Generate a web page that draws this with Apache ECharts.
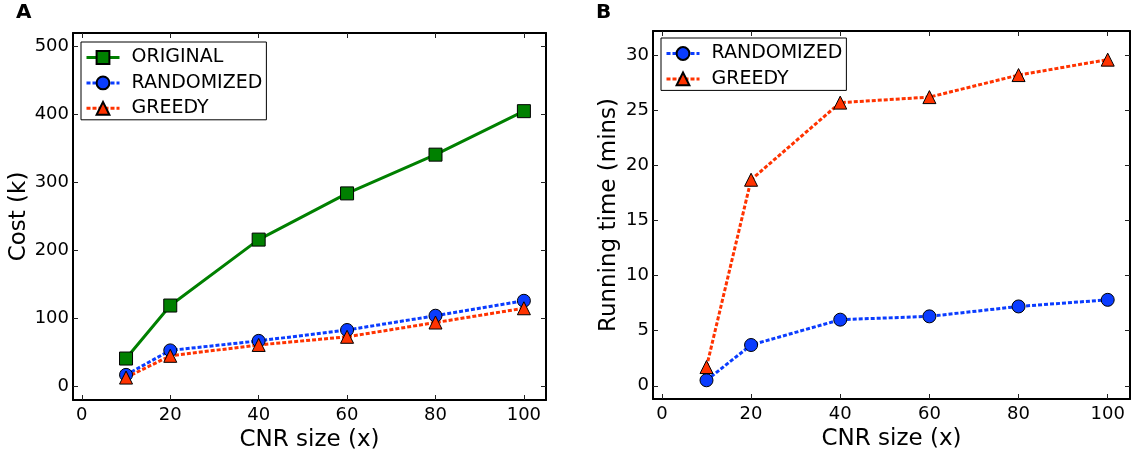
<!DOCTYPE html>
<html><head><meta charset="utf-8">
<script src="https://cdn.jsdelivr.net/npm/echarts@6/dist/echarts.min.js"></script>
<style>html,body{margin:0;padding:0;background:#fff}#c{width:1136px;height:450px}</style>
</head><body><div id="c"></div>
<script>
const xValues = [10, 20, 40, 60, 80, 100];
const costOriginal = [41, 119, 216, 284, 341, 405];
const costRandomized = [17, 53, 67, 83, 104, 126];
const costGreedy = [13, 45, 61, 73, 94, 115];
const timeRandomized = [0.5, 3.7, 6.0, 6.3, 7.2, 7.8];
const timeGreedy = [1.7, 18.7, 25.7, 26.2, 28.2, 29.6];
const xTicks = [0, 20, 40, 60, 80, 100];
const costTicks = [0, 100, 200, 300, 400, 500];
const timeTicks = [0, 5, 10, 15, 20, 25, 30];

const FONT = 'DejaVu Sans';
const GREEN = '#008000', BLUE = '#0a3cff', RED = '#ff3300';

function pairs(ys) { return xValues.map((x, i) => [x, ys[i]]); }

function axis(kind, gridIndex, position, ticks, min, max, opts) {
  opts = opts || {};
  const a = {
    type: 'value', gridIndex, position, min, max,
    axisLine: { show: true, onZero: false, lineStyle: { color: '#000', width: 2 } },
    axisTick: { show: true, inside: true, length: 5, customValues: ticks, lineStyle: { color: '#222', width: 1 } },
    axisLabel: { show: !!opts.labels, customValues: ticks, color: '#000', fontFamily: FONT, fontSize: 18, margin: kind === 'x' ? 6 : 4 },
    splitLine: { show: false }
  };
  if (opts.name) {
    a.name = opts.name;
    a.nameLocation = 'middle';
    a.nameGap = opts.nameGap;
    a.nameTextStyle = { color: '#000', fontFamily: FONT, fontSize: 23 };
  }
  return a;
}

function series(name, xi, yi, data, color, symbol, solid) {
  return {
    name, type: 'line', xAxisIndex: xi, yAxisIndex: yi, data: pairs(data),
    symbol, symbolSize: 13, showSymbol: true,
    lineStyle: solid ? { color, width: 3, type: 'solid' } : { color, width: 3, type: [4, 2] },
    itemStyle: { color, borderColor: '#000', borderWidth: 1 },
    animation: false
  };
}

const legendBase = {
  orient: 'vertical', backgroundColor: '#fff', borderColor: '#000', borderWidth: 1, borderRadius: 0,
  padding: [6, 4, 2, 4], itemWidth: 33, itemHeight: 16, itemGap: 6.4,
  lineStyle: { width: 3 },
  textStyle: { color: '#000', fontFamily: FONT, fontSize: 19, padding: [0, 0, 0, 7] }
};

const chart = echarts.init(document.getElementById('c'), null, { renderer: 'canvas' });
chart.setOption({
  animation: false,
  title: [
    { text: 'A', left: 16, top: 3, padding: 0, textStyle: { fontFamily: FONT, fontSize: 20, fontWeight: 'bold', color: '#000' } },
    { text: 'B', left: 596, top: 3, padding: 0, textStyle: { fontFamily: FONT, fontSize: 20, fontWeight: 'bold', color: '#000' } }
  ],
  grid: [
    { left: 73, top: 33, right: 590, bottom: 50, outerBoundsMode: 'none', containLabel: false },
    { left: 653, top: 31, right: 6, bottom: 51, outerBoundsMode: 'none', containLabel: false }
  ],
  xAxis: [
    axis('x', 0, 'bottom', xTicks, -2, 105, { labels: true, name: 'CNR size (x)', nameGap: 22 }),
    axis('x', 0, 'top', xTicks, -2, 105),
    axis('x', 1, 'bottom', xTicks, -2, 105, { labels: true, name: 'CNR size (x)', nameGap: 22 }),
    axis('x', 1, 'top', xTicks, -2, 105)
  ],
  yAxis: [
    axis('y', 0, 'left', costTicks, -20, 520, { labels: true, name: 'Cost (k)', nameGap: 42 }),
    axis('y', 0, 'right', costTicks, -20, 520),
    axis('y', 1, 'left', timeTicks, -1.2, 32.2, { labels: true, name: 'Running time (mins)', nameGap: 32 }),
    axis('y', 1, 'right', timeTicks, -1.2, 32.2)
  ],
  legend: [
    Object.assign({}, legendBase, { left: 81, top: 42, data: ['ORIGINAL', 'RANDOMIZED', 'GREEDY'] }),
    Object.assign({}, legendBase, { left: 661, top: 38, data: ['RANDOMIZED', 'GREEDY'] })
  ],
  series: [
    series('ORIGINAL', 0, 0, costOriginal, GREEN, 'rect', true),
    series('RANDOMIZED', 0, 0, costRandomized, BLUE, 'circle', false),
    series('GREEDY', 0, 0, costGreedy, RED, 'triangle', false),
    series('RANDOMIZED', 2, 2, timeRandomized, BLUE, 'circle', false),
    series('GREEDY', 2, 2, timeGreedy, RED, 'triangle', false)
  ]
});
</script>
</body></html>
